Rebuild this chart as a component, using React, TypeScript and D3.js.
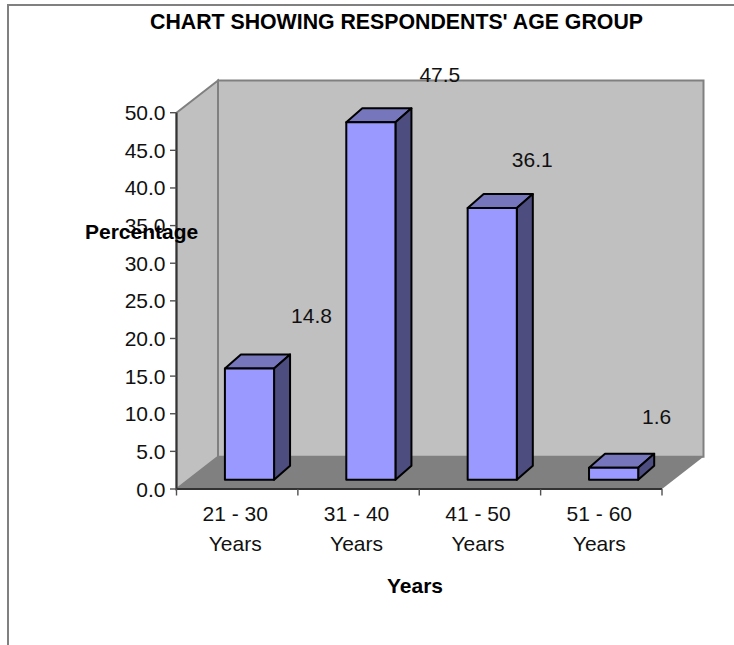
import React from "react";
import * as d3 from "d3";

// Respondents' age groups, share of the sample in percent.
const categories = ["21 - 30", "31 - 40", "41 - 50", "51 - 60"];
const percentages = [14.8, 47.5, 36.1, 1.6];
const yTicks = [0, 5, 10, 15, 20, 25, 30, 35, 40, 45, 50];
const titleText = "CHART SHOWING RESPONDENTS' AGE GROUP";
const yTitle = "Percentage";
const xTitle = "Years";
const categorySuffix = "Years";

// Value labels float away from their bars, as offsets from the bar's top-centre.
const labelOffsets: [number, number][] = [
  [62, -45],
  [69, -40],
  [40, -41],
  [43, -44],
];

const WIDTH = 734;
const HEIGHT = 645;
const FONT = "'Liberation Sans', Arial, sans-serif";
const FONT_SIZE = 21;

// Oblique projection: the box recedes up and to the right.
const BOX_DX = 41.5;
const BOX_DY = -32.2;
const BAR_DX = 16;
const BAR_DY = -14;
const BAR_SHIFT_X = 12.3;
const BAR_SHIFT_Y = -9.2;
const BAR_WIDTH_RATIO = 0.405;

const x = d3.scaleBand<string>().domain(categories).range([176.5, 662]);
const y = d3.scaleLinear().domain([0, 50]).range([489, 112.7]);

const pts = (p: [number, number][]) => p.map((d) => d.join(",")).join(" ");

export default function App() {
  const x0 = x.range()[0];
  const x1 = x.range()[1];
  const y0 = y(0);
  const yTop = y(50);
  const barW = x.bandwidth() * BAR_WIDTH_RATIO;
  const tickEdges = [...categories.map((c) => x(c) as number), x1];

  return (
    <svg
      width={WIDTH}
      height={HEIGHT}
      style={{ position: "absolute", left: 0, top: 0, background: "#fff" }}
      fontFamily={FONT}
      fontSize={FONT_SIZE}
      fill="#000"
    >
      {/* Outer chart frame: only the top and left edges are in view */}
      <path d={`M8,${HEIGHT} V5 H${WIDTH}`} fill="none" stroke="#808080" strokeWidth={2} />

      <text x={396.5} y={28.5} textAnchor="middle" fontWeight="bold" fontSize={21.3}>
        {titleText}
      </text>

      {/* Box walls and floor */}
      <polygon
        points={pts([[x0, yTop], [x0 + BOX_DX, yTop + BOX_DY], [x0 + BOX_DX, y0 + BOX_DY], [x0, y0]])}
        fill="#c0c0c0"
        stroke="#808080"
        strokeWidth={2}
      />
      <polygon
        points={pts([[x0 + BOX_DX, yTop + BOX_DY], [x1 + BOX_DX, yTop + BOX_DY], [x1 + BOX_DX, y0 + BOX_DY], [x0 + BOX_DX, y0 + BOX_DY]])}
        fill="#c0c0c0"
        stroke="#808080"
        strokeWidth={2}
      />
      <polygon
        points={pts([[x0, y0], [x0 + BOX_DX, y0 + BOX_DY], [x1 + BOX_DX, y0 + BOX_DY], [x1, y0]])}
        fill="#808080"
      />

      {/* Axes */}
      <path d={`M${x0},${yTop} V${y0} H${x1}`} fill="none" stroke="#333" strokeWidth={2} />
      {yTicks.map((t) => (
        <g key={t}>
          <line x1={x0 - 6.5} x2={x0} y1={y(t)} y2={y(t)} stroke="#505050" strokeWidth={1.4} />
          <text x={165.5} y={y(t) + 7.5} textAnchor="end" fill="#111">
            {t.toFixed(1)}
          </text>
        </g>
      ))}
      {tickEdges.map((e) => (
        <line key={e} x1={e} x2={e} y1={y0} y2={y0 + 6.5} stroke="#505050" strokeWidth={1.4} />
      ))}
      {categories.map((c) => {
        const cx = (x(c) as number) + x.bandwidth() / 2;
        return (
          <g key={c} textAnchor="middle" fill="#111">
            <text x={cx - 2} y={521}>{c}</text>
            <text x={cx - 2} y={550.5}>{categorySuffix}</text>
          </g>
        );
      })}

      {/* Bars: top and side faces first, then the front */}
      {percentages.map((v, i) => {
        const c = categories[i];
        const left = (x(c) as number) + (x.bandwidth() - barW) / 2 + BAR_SHIFT_X;
        const right = left + barW;
        const bottom = y0 + BAR_SHIFT_Y;
        const top = y(v) + BAR_SHIFT_Y;
        const stroke = { stroke: "#000", strokeWidth: 2, strokeLinejoin: "round" as const };
        return (
          <g key={c}>
            <polygon
              points={pts([[left, top], [left + BAR_DX, top + BAR_DY], [right + BAR_DX, top + BAR_DY], [right, top]])}
              fill="#7676bd"
              {...stroke}
            />
            <polygon
              points={pts([[right, top], [right + BAR_DX, top + BAR_DY], [right + BAR_DX, bottom + BAR_DY], [right, bottom]])}
              fill="#4d4d80"
              {...stroke}
            />
            <rect x={left} y={top} width={barW} height={bottom - top} fill="#9999ff" {...stroke} />
          </g>
        );
      })}

      {/* Value labels */}
      {percentages.map((v, i) => {
        const c = categories[i];
        const cx = (x(c) as number) + x.bandwidth() / 2 + BAR_SHIFT_X;
        const top = y(v) + BAR_SHIFT_Y;
        return (
          <text key={c} x={cx + labelOffsets[i][0]} y={top + labelOffsets[i][1]} textAnchor="middle" fill="#111">
            {v.toFixed(1)}
          </text>
        );
      })}

      <text x={85} y={238.5} fontWeight="bold">{yTitle}</text>
      <text x={415} y={593} textAnchor="middle" fontWeight="bold">{xTitle}</text>
    </svg>
  );
}
